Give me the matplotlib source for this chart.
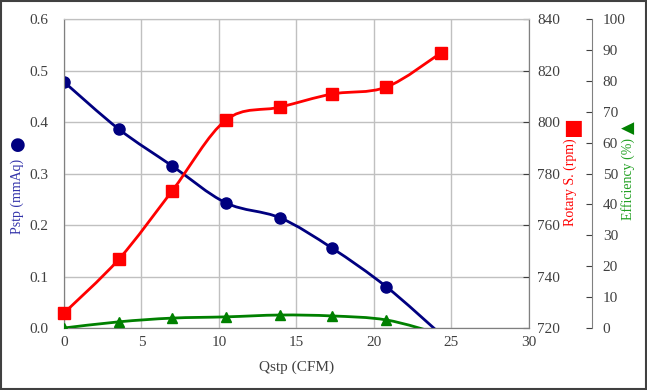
import numpy as np
import matplotlib.pyplot as plt
from matplotlib.path import Path
from matplotlib.patches import PathPatch, Rectangle

plt.rcParams['font.family'] = ['Liberation Serif', 'DejaVu Serif']

# data
qstp = [0.0, 3.55, 6.97, 10.45, 13.94, 17.3, 20.8, 24.3]
pstp = [0.478, 0.386, 0.315, 0.243, 0.214, 0.155, 0.080, -0.012]
rpm = [725.8, 746.8, 773.2, 800.8, 805.8, 810.9, 813.6, 826.8]
eff = [0.0, 2.0, 3.2, 3.6, 4.2, 3.9, 2.6, -2.0]

navy = '#000080'
red = '#ff0000'
green = '#008000'
tick_col = '#404040'


def smooth_path(x, y):
    # Catmull-Rom style smoothing drawn as cubic Bezier segments
    p = np.column_stack([x, y]).astype(float)
    verts = [p[0]]
    codes = [Path.MOVETO]
    n = len(p)
    for i in range(n - 1):
        p0 = p[i - 1] if i > 0 else p[i]
        p3 = p[i + 2] if i + 2 < n else p[i + 1]
        c1 = p[i] + (p[i + 1] - p0) / 6
        c2 = p[i + 1] - (p3 - p[i]) / 6
        verts += [c1, c2, p[i + 1]]
        codes += [Path.CURVE4] * 3
    return Path(verts, codes)


fig = plt.figure(figsize=(6.47, 3.9), dpi=100)
ax1 = fig.add_axes([0.0989, 0.159, 0.7187, 0.792])
ax2 = ax1.twinx()
ax3 = ax1.twinx()

# Pstp
ax1.add_patch(PathPatch(smooth_path(qstp, pstp), fill=False, edgecolor=navy, lw=2, zorder=3))
ax1.plot(qstp, pstp, 'o', color=navy, ms=8, zorder=4)
# rpm
ax2.add_patch(PathPatch(smooth_path(qstp, rpm), fill=False, edgecolor=red, lw=2, zorder=3))
ax2.plot(qstp, rpm, 's', color=red, ms=8, zorder=4, clip_on=False)
# efficiency
ax3.add_patch(PathPatch(smooth_path(qstp, eff), fill=False, edgecolor=green, lw=2, zorder=3))
ax3.plot(qstp, eff, '^', color=green, ms=7, zorder=4)

ax1.set_xlim(0, 30)
ax1.set_ylim(0, 0.6)
ax2.set_ylim(720, 840)
ax3.set_ylim(0, 100)

ax1.set_xticks(range(0, 31, 5))
ax1.set_yticks(np.arange(0, 0.61, 0.1))
ax1.yaxis.set_major_formatter(plt.FormatStrFormatter('%.1f'))
ax2.set_yticks(range(720, 841, 20))
ax3.set_yticks(range(0, 101, 10))

ax1.grid(True, color='#c0c0c0', lw=1)
ax1.set_axisbelow(True)

ax1.tick_params(axis='x', length=0, labelsize=11, colors=tick_col, pad=6)
ax1.tick_params(axis='y', length=0, labelsize=11, colors=tick_col, pad=11)
ax2.tick_params(axis='y', direction='in', length=4, labelsize=11, colors=tick_col, pad=6)
ax3.tick_params(axis='y', direction='in', length=4, labelsize=11, colors=tick_col, pad=8)

ax3.spines['right'].set_position(('axes', 1.135))
for a in (ax1, ax2):
    for s in a.spines.values():
        s.set_color('#808080')
    a.spines['top'].set_color('#c0c0c0')
ax3.spines['right'].set_color('#808080')
for s in ('left', 'top', 'bottom'):
    ax3.spines[s].set_visible(False)

ax1.set_xlabel('Qstp (CFM)', fontsize=11, color=tick_col, labelpad=8)

# axis titles with series symbols
fig.text(0.026, 0.497, 'Pstp (mmAq)', rotation=90, color='#3333aa', fontsize=10, ha='center', va='center')
fig.text(0.027, 0.628, '\u25cf', color=navy, fontsize=13, ha='center', va='center', family='DejaVu Sans')
fig.text(0.882, 0.533, 'Rotary S. (rpm)', rotation=90, color=red, fontsize=10, ha='center', va='center')
fig.text(0.886, 0.672, '\u25a0', color=red, fontsize=15, ha='center', va='center', family='DejaVu Sans')
fig.text(0.971, 0.54, 'Efficiency (%)', rotation=90, color='#22a022', fontsize=10, ha='center', va='center')
fig.text(0.972, 0.672, '\u25b2', color=green, fontsize=12, ha='center', va='center', rotation=90, family='DejaVu Sans')

# outer frame
fig.patches.append(Rectangle((0.002, 0.003), 0.996, 0.994, transform=fig.transFigure,
                             fill=False, edgecolor='#404040', lw=1.5))

fig.savefig('out.png', dpi=100)
